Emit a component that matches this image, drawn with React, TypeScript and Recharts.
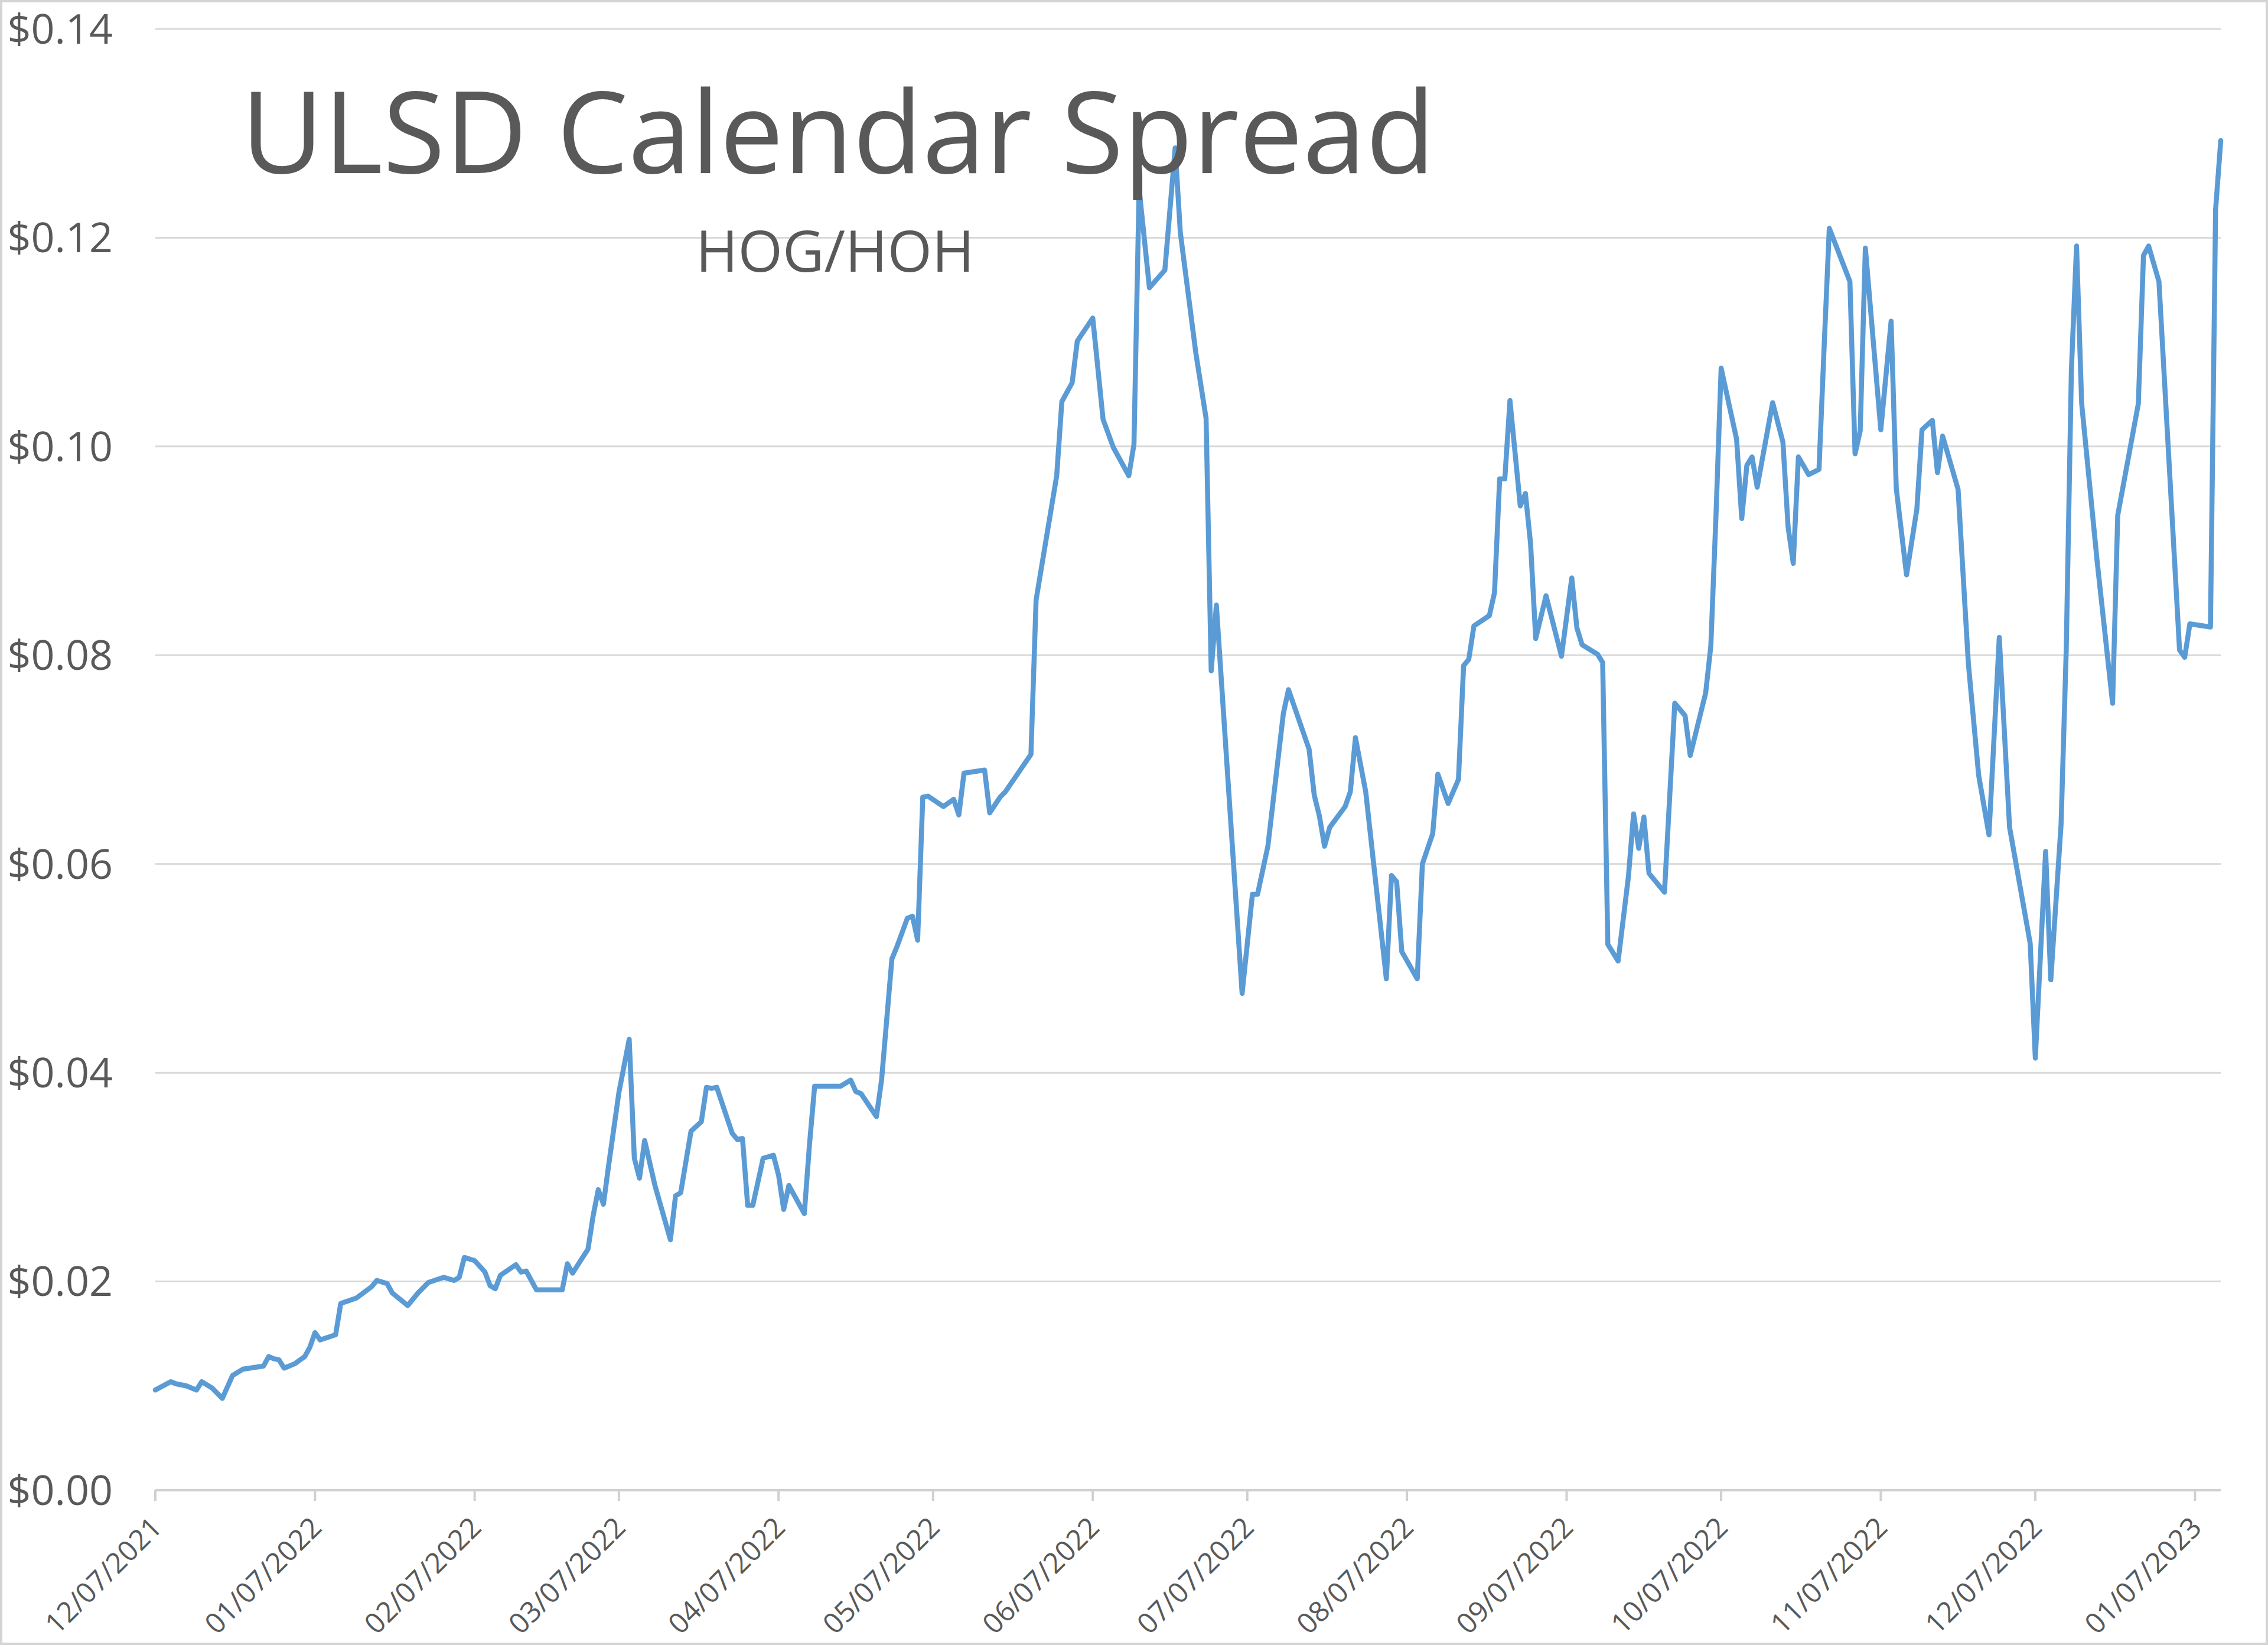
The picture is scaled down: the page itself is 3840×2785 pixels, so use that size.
import { LineChart, Line, XAxis, YAxis, CartesianGrid } from "recharts";

// days since 12/07/2021 (trading days where the line turns)
const days = [
  0, 3, 4, 6, 8, 9, 11, 13, 15, 17, 21, 22, 23, 24, 25, 27, 29, 30, 31, 32,
  35, 36, 39, 42, 43, 45, 46, 49, 51, 53, 56, 58, 59, 60, 62, 64, 65, 66, 67, 70,
  71, 72, 74, 79, 80, 81, 84, 85, 86, 87, 88, 90, 92, 93, 94, 95, 97, 100, 101, 102,
  104, 106, 107, 108, 109, 112, 113, 114, 115, 116, 118, 120, 121, 122, 123, 126, 127, 128, 133, 135,
  136, 137, 140, 141, 143, 144, 146, 147, 148, 149, 150, 153, 155, 156, 157, 161, 162, 164, 165, 170,
  171, 175, 176, 178, 179, 182, 184, 186, 189, 190, 191, 193, 196, 198, 199, 202, 204, 205, 206, 211,
  213, 214, 216, 219, 220, 224, 225, 226, 227, 228, 231, 232, 233, 235, 239, 240, 241, 242, 245, 246,
  248, 249, 251, 253, 254, 255, 256, 259, 260, 261, 262, 263, 265, 266, 267, 268, 270, 273, 275, 276,
  277, 280, 281, 282, 284, 286, 287, 288, 289, 290, 293, 295, 297, 298, 301, 302, 303, 304, 307, 308,
  309, 310, 311, 314, 316, 317, 318, 319, 321, 323, 324, 325, 329, 330, 331, 332, 335, 337, 338, 340,
  342, 343, 345, 346, 347, 350, 352, 354, 356, 358, 360, 364, 365, 367, 368, 370, 371, 372, 373, 374,
  377, 380, 381, 385, 386, 387, 389, 393, 394, 395, 399, 400, 401,
];

// HOG/HOH spread, $/gal
const spread = [
  0.0096, 0.0104, 0.0102, 0.01, 0.0096, 0.0104, 0.0098, 0.0088, 0.011, 0.0116, 0.0119, 0.0128, 0.0126, 0.0125, 0.0117, 0.0121, 0.0128, 0.0137, 0.0151, 0.0144,
  0.0149, 0.0179, 0.0184, 0.0195, 0.0201, 0.0198, 0.0189, 0.0177, 0.0189, 0.0199, 0.0204, 0.0201, 0.0204, 0.0223, 0.022, 0.0209, 0.0196, 0.0193, 0.0206, 0.0216,
  0.0209, 0.021, 0.0192, 0.0192, 0.0217, 0.0208, 0.0231, 0.0263, 0.0288, 0.0274, 0.0311, 0.0381, 0.0432, 0.0318, 0.0299, 0.0335, 0.0292, 0.024, 0.0282, 0.0285,
  0.0344, 0.0353, 0.0386, 0.0385, 0.0386, 0.0342, 0.0336, 0.0337, 0.0273, 0.0273, 0.0318, 0.0321, 0.0302, 0.0269, 0.0292, 0.0265, 0.0331, 0.0387, 0.0387, 0.0393,
  0.0382, 0.038, 0.0358, 0.0393, 0.0509, 0.0521, 0.0548, 0.055, 0.0527, 0.0664, 0.0665, 0.0655, 0.0662, 0.0647, 0.0687, 0.069, 0.0649, 0.0664, 0.0669, 0.0705,
  0.0853, 0.0972, 0.1043, 0.1061, 0.1101, 0.1123, 0.1026, 0.0999, 0.0972, 0.1002, 0.1247, 0.1152, 0.1169, 0.1286, 0.1205, 0.109, 0.1027, 0.0785, 0.0848, 0.0476,
  0.0571, 0.0571, 0.0617, 0.0744, 0.0767, 0.071, 0.0666, 0.0646, 0.0617, 0.0635, 0.0655, 0.0669, 0.0721, 0.0669, 0.049, 0.0589, 0.0583, 0.0516, 0.049, 0.06,
  0.0629, 0.0686, 0.0658, 0.0681, 0.079, 0.0796, 0.0828, 0.0838, 0.086, 0.0969, 0.0969, 0.1044, 0.0943, 0.0955, 0.0907, 0.0816, 0.0857, 0.0799, 0.0874, 0.0826,
  0.081, 0.0801, 0.0793, 0.0523, 0.0507, 0.0588, 0.0648, 0.0615, 0.0645, 0.0591, 0.0573, 0.0754, 0.0742, 0.0704, 0.0764, 0.0809, 0.0934, 0.1075, 0.1007, 0.0931,
  0.0982, 0.099, 0.0961, 0.1042, 0.1004, 0.0923, 0.0888, 0.099, 0.0973, 0.0978, 0.1096, 0.1209, 0.1158, 0.0993, 0.1015, 0.119, 0.1016, 0.112, 0.096, 0.0877,
  0.094, 0.1016, 0.1025, 0.0975, 0.101, 0.0959, 0.0792, 0.0685, 0.0628, 0.0817, 0.0635, 0.0524, 0.0414, 0.0612, 0.0489, 0.0638, 0.0805, 0.1073, 0.1192, 0.1041,
  0.089, 0.0754, 0.0934, 0.1041, 0.1183, 0.1192, 0.1158, 0.0805, 0.0798, 0.083, 0.0827, 0.1227, 0.1293,
];

const tickLabels = [
  "12/07/2021", "01/07/2022", "02/07/2022", "03/07/2022", "04/07/2022", "05/07/2022", "06/07/2022",
  "07/07/2022", "08/07/2022", "09/07/2022", "10/07/2022", "11/07/2022", "12/07/2022", "01/07/2023",
];
const yTicks = [0, 0.02, 0.04, 0.06, 0.08, 0.1, 0.12, 0.14];

const DAY = 24 * 3600 * 1000;
const toTime = (s: string) => {
  const [m, d, y] = s.split("/").map(Number);
  return Date.UTC(y, m - 1, d);
};
const start = toTime(tickLabels[0]);
const tickDays = tickLabels.map((s) => Math.round((toTime(s) - start) / DAY));
const labelByDay: Record<number, string> = {};
tickDays.forEach((d, i) => (labelByDay[d] = tickLabels[i]));

const data = days.map((d, i) => ({ day: d, spread: spread[i] }));

const FONT = "'Open Sans', sans-serif";
const GREY = "#595959";

const DateTick = (props: any) => {
  const { x, y, payload } = props;
  return (
    <g transform={`translate(${x + 14},${y + 48})`}>
      <text
        textAnchor="end"
        transform="rotate(-45)"
        fontFamily={FONT}
        fontSize={48}
        fill={GREY}
      >
        {labelByDay[payload.value]}
      </text>
    </g>
  );
};

export default function App() {
  return (
    <div
      style={{
        position: "absolute",
        top: 0,
        left: 0,
        width: 3840,
        height: 2785,
        background: "#fff",
        outline: "4px solid #d4d4d4",
        outlineOffset: -4,
      }}
    >
      <LineChart
        width={3840}
        height={2785}
        data={data}
        margin={{ top: 49, right: 80, left: 0, bottom: 0 }}
      >
        <CartesianGrid vertical={false} stroke="#d9d9d9" strokeWidth={3} />
        <XAxis
          type="number"
          dataKey="day"
          domain={[0, 401]}
          ticks={tickDays}
          interval={0}
          height={262}
          stroke="#d0d0d0"
          strokeWidth={4}
          tickSize={18}
          tickMargin={0}
          tick={<DateTick />}
        />
        <YAxis
          domain={[0, 0.14]}
          ticks={yTicks}
          width={263}
          axisLine={false}
          tickLine={false}
          tickSize={0}
          tickMargin={72}
          tickFormatter={(v: number) => `$${v.toFixed(2)}`}
          tick={{ fontFamily: FONT, fontSize: 70, fill: GREY }}
        />
        <Line
          type="linear"
          dataKey="spread"
          stroke="#5B9BD5"
          strokeWidth={8.5}
          strokeLinejoin="round"
          strokeLinecap="round"
          dot={false}
          isAnimationActive={false}
        />
      </LineChart>
      <svg
        width={3840}
        height={2785}
        style={{ position: "absolute", top: 0, left: 0, pointerEvents: "none" }}
      >
        <text x={408} y={293} fontFamily={FONT} fontSize={192} fill={GREY}>
          ULSD Calendar Spread
        </text>
        <text x={1178} y={460} fontFamily={FONT} fontSize={97} fill={GREY}>
          HOG/HOH
        </text>
      </svg>
    </div>
  );
}
